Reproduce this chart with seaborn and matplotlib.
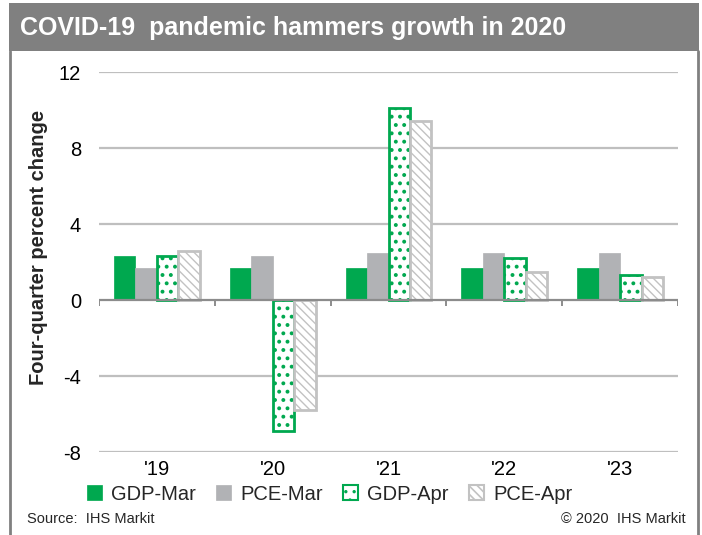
import matplotlib
matplotlib.use("Agg")
import matplotlib.pyplot as plt
from matplotlib.patches import Rectangle, Patch
from matplotlib.lines import Line2D
import numpy as np
import pandas as pd
import seaborn as sns

# Four-quarter percent change, March vs April forecasts
years = ["'19", "'20", "'21", "'22", "'23"]
series = ["GDP-Mar", "PCE-Mar", "GDP-Apr", "PCE-Apr"]
gdp_mar = [2.3, 1.7, 1.7, 1.7, 1.7]
pce_mar = [1.7, 2.3, 2.5, 2.5, 2.5]
gdp_apr = [2.3, -6.9, 10.1, 2.2, 1.3]
pce_apr = [2.6, -5.8, 9.4, 1.5, 1.2]
y_ticks = [-8, -4, 0, 4, 8, 12]

GREEN = "#00A84F"
GRAY = "#B1B2B5"
HATCH_GRAY = "#C2C2C2"
FRAME = "#808080"

df = pd.DataFrame({
    "year": years * 4,
    "series": np.repeat(series, len(years)),
    "value": gdp_mar + pce_mar + gdp_apr + pce_apr,
})

sns.set_theme(style="white")
plt.rcParams["font.family"] = ["Liberation Sans", "DejaVu Sans"]
plt.rcParams["hatch.linewidth"] = 1.2

W, H = 702, 535
fig = plt.figure(figsize=(W / 100, H / 100), dpi=100)
fig.patch.set_facecolor("white")

def fx(px):
    return px / W

def fy(py):
    return 1 - py / H

ax = fig.add_axes([fx(99), fy(452), fx(678) - fx(99), fy(72) - fy(452)])

sns.barplot(data=df, x="year", y="value", hue="series", hue_order=series,
            palette=[GREEN, GRAY, "white", "white"], width=0.74, gap=0,
            saturation=1, legend=False, ax=ax, zorder=3)

styles = [
    dict(fc=GREEN, ec=GREEN, hatch=None, lw=0.5, hlw=1.0),
    dict(fc=GRAY, ec=GRAY, hatch=None, lw=0.5, hlw=1.0),
    dict(fc="white", ec=GREEN, hatch="..", lw=2.0, hlw=1.6),
    dict(fc="white", ec=HATCH_GRAY, hatch="\\\\\\\\", lw=2.0, hlw=1.0),
]
for cont, st in zip(ax.containers, styles):
    for bar in cont:
        bar.set_facecolor(st["fc"])
        bar.set_hatch(st["hatch"])
        bar.set_edgecolor(st["ec"])
        bar.set_linewidth(st["lw"])
        if hasattr(bar, "set_hatch_linewidth"):
            bar.set_hatch_linewidth(st["hlw"])

ax.set_ylim(-8, 12)
ax.set_xlim(-0.5, 4.5)
ax.set_yticks(y_ticks)
ax.set_yticklabels([str(v) for v in y_ticks])
ax.set_xlabel("")
ax.set_ylabel("")
for s in ax.spines.values():
    s.set_visible(False)
for v in y_ticks:
    if v != 0:
        ax.axhline(v, color="#BFBFBF", lw=1.6, zorder=1)
ax.axhline(0, color="#8C8C8C", lw=1.6, zorder=4)
ax.vlines(np.arange(-0.5, 5.0, 1.0), -0.3, 0, color="#8C8C8C", lw=1.4, zorder=4)
ax.tick_params(axis="both", length=0, labelsize=14.5, colors="black")
ax.tick_params(axis="y", pad=13)
ax.tick_params(axis="x", pad=6)

# Legend below the category labels
handles = [
    Patch(facecolor=GREEN, edgecolor=GREEN, lw=0.5),
    Patch(facecolor=GRAY, edgecolor=GRAY, lw=0.5),
    Patch(facecolor="white", edgecolor=GREEN, hatch="..", lw=1.5),
    Patch(facecolor="white", edgecolor=HATCH_GRAY, hatch="\\\\\\\\", lw=1.5),
]
fig.legend(handles, series, loc="center left", bbox_to_anchor=(fx(87), fy(494)),
           ncol=4, frameon=False, fontsize=14.5, handlelength=0.75,
           handleheight=0.75, handletextpad=0.45, columnspacing=1.0,
           borderaxespad=0, borderpad=0)

fig.text(fx(39), fy(247), "Four-quarter percent change", rotation=90,
         ha="center", va="center", fontsize=14.5, fontweight="bold")

# Title band and frame
fig.add_artist(Rectangle((fx(9), fy(51)), fx(699) - fx(9), fy(3) - fy(51),
                         transform=fig.transFigure, facecolor=FRAME,
                         edgecolor="none", zorder=0))
fig.add_artist(Line2D([fx(10), fx(10)], [fy(51), 0], transform=fig.transFigure,
                      color=FRAME, lw=2))
fig.add_artist(Line2D([fx(698), fx(698)], [fy(51), 0], transform=fig.transFigure,
                      color=FRAME, lw=2))
fig.text(fx(20), fy(28), "COVID-19  pandemic hammers growth in 2020",
         color="white", fontsize=18, fontweight="bold", ha="left", va="center")

fig.text(fx(27), fy(519), "Source:  IHS Markit", fontsize=10.5, ha="left", va="center")
fig.text(fx(686), fy(519), "\u00a9 2020  IHS Markit", fontsize=10.5, ha="right", va="center")

fig.savefig("out.png", dpi=100)
